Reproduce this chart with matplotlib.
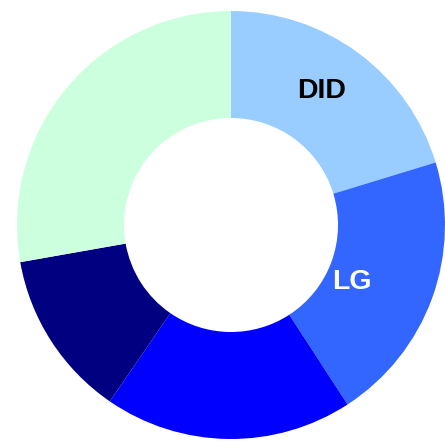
import numpy as np
import matplotlib.pyplot as plt

# slice sizes (degrees of arc), clockwise from 12 o'clock
labels = ["DID", "LG", "", "", ""]
values = [73, 74, 67.5, 45.5, 100]
colors = ["#99ccff", "#3366ff", "#0000ff", "#000080", "#ccffdd"]
label_colors = ["black", "white", "white", "white", "black"]
# where each label sits along the ring (fraction of radius) and angle nudge
label_radius = [0.757, 0.625, 0.75, 0.75, 0.75]
label_shift = [2.5, -5.0, 0, 0, 0]

fig = plt.figure(figsize=(4.45, 4.44), dpi=100)
ax = fig.add_axes([17 / 445, 5 / 444, 428 / 445, 428 / 444])

wedges, _ = ax.pie(
    values,
    colors=colors,
    startangle=90,
    counterclock=False,
    radius=1,
    wedgeprops=dict(width=0.5, linewidth=0),
)

for w, lab, c, r, sh in zip(wedges, labels, label_colors, label_radius, label_shift):
    if not lab:
        continue
    ang = np.deg2rad((w.theta1 + w.theta2) / 2 + sh)
    ax.text(r * np.cos(ang), r * np.sin(ang), lab, ha="center", va="center",
            color=c, fontsize=20.5, fontweight="bold", family="Liberation Sans")

ax.set_xlim(-1, 1)
ax.set_ylim(-1, 1)
ax.set_aspect("auto")
ax.axis("off")

fig.savefig("out.png", dpi=100)
